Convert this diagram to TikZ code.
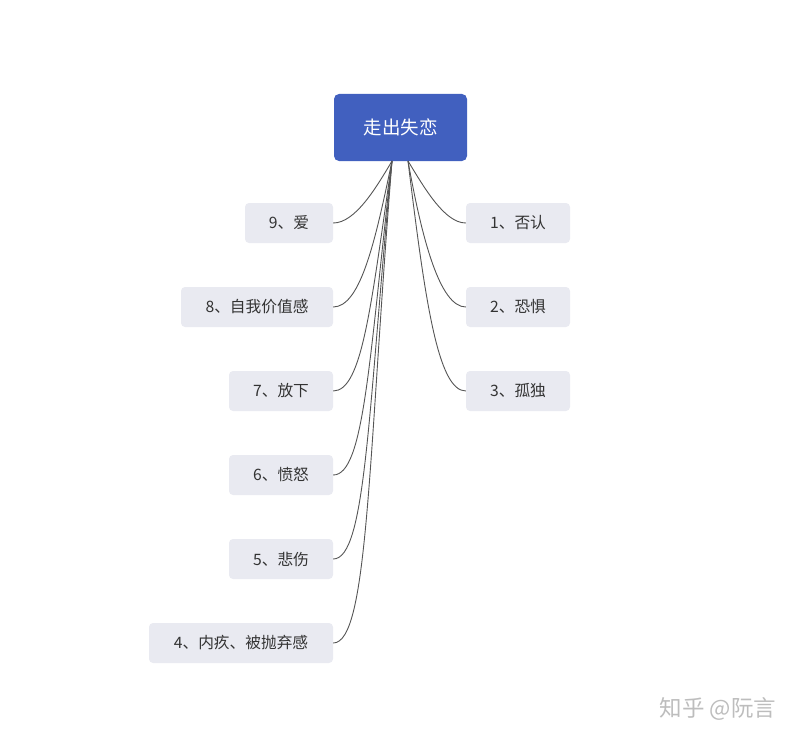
\documentclass[tikz,border=0pt]{standalone}
\usepackage{fontspec}
\setmainfont{Noto Sans CJK SC}
\definecolor{rootblue}{HTML}{4160BF}
\definecolor{leaffill}{HTML}{E9EAF1}
\definecolor{txt}{HTML}{333333}
\definecolor{edge}{HTML}{555555}
\definecolor{wm}{HTML}{BDBDBD}
\begin{document}
\begin{tikzpicture}[x=1pt,y=-1pt,
  rootbox/.style={fill=rootblue,rounded corners=5pt,minimum width=133pt,minimum height=67pt,inner sep=0pt,text=white,font=\fontsize{18.5}{20}\selectfont},
  leafbox/.style={fill=leaffill,rounded corners=4pt,minimum height=40pt,inner sep=0pt,text=txt,font=\fontsize{15.7}{18}\selectfont},
  conn/.style={draw=edge,line width=0.9pt}]
\useasboundingbox (0,0) rectangle (800,741);
\node[rootbox] (root) at (400.5,127.5) {走出失恋};
\coordinate (rl) at (392,161);
\coordinate (rr) at (408,161);
% left leaves
\node[leafbox,minimum width=88pt] (n9) at (289,223) {9、爱};
\node[leafbox,minimum width=152pt] (n8) at (257,307) {8、自我价值感};
\node[leafbox,minimum width=104pt] (n7) at (281,391) {7、放下};
\node[leafbox,minimum width=104pt] (n6) at (281,475) {6、愤怒};
\node[leafbox,minimum width=104pt] (n5) at (281,559) {5、悲伤};
\node[leafbox,minimum width=184pt] (n4) at (241,643) {4、内疚、被抛弃感};
% right leaves
\node[leafbox,minimum width=104pt] (n1) at (518,223) {1、否认};
\node[leafbox,minimum width=104pt] (n2) at (518,307) {2、恐惧};
\node[leafbox,minimum width=104pt] (n3) at (518,391) {3、孤独};
% connectors
\draw[conn] (rl) .. controls +(-16,27) and +(22,0) .. (n9.east);
\draw[conn] (rl) .. controls +(-16,76) and +(28,0) .. (n8.east);
\draw[conn] (rl) .. controls +(-21,145) and +(29,0) .. (n7.east);
\draw[conn] (rl) .. controls +(-23,200) and +(31,0) .. (n6.east);
\draw[conn] (rl) .. controls +(-24,250) and +(33,0) .. (n5.east);
\draw[conn] (rl) .. controls +(-24,300) and +(35,0) .. (n4.east);
\draw[conn] (rr) .. controls +(17,28) and +(-21,0) .. (n1.west);
\draw[conn] (rr) .. controls +(14,78) and +(-26,0) .. (n2.west);
\draw[conn] (rr) .. controls +(17,139) and +(-28,0) .. (n3.west);
% watermark
\node[text=wm,font=\fontsize{22.5}{24}\selectfont,inner sep=0pt] (wmark) at (718,709) {知乎 @阮言};
\end{tikzpicture}
\end{document}
